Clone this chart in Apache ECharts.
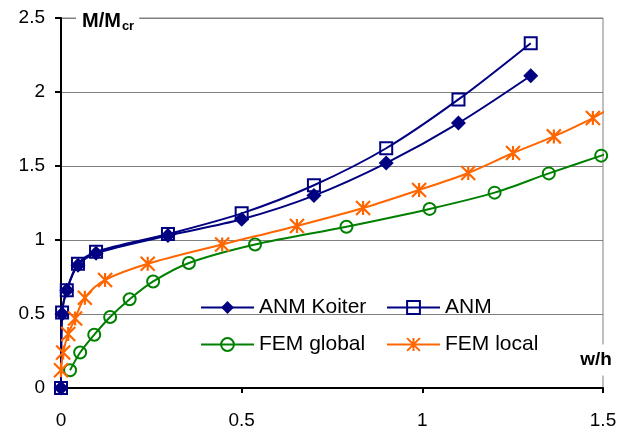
<!DOCTYPE html>
<html>
<head>
<meta charset="utf-8">
<script src="https://cdn.jsdelivr.net/npm/echarts@6/dist/echarts.min.js"></script>
<style>html,body{margin:0;padding:0;background:#fff}#c{width:631px;height:432px}</style>
</head>
<body>
<div id="c"></div>
<script>
// ---- data ----
const xTicks = [0, 0.5, 1, 1.5];
const yTicks = [0, 0.5, 1, 1.5, 2, 2.5];

const koiterX = [0, 0.003, 0.016, 0.047, 0.097, 0.296, 0.5, 0.7, 0.9, 1.1, 1.3];
const koiterY = [0, 0.50, 0.66, 0.83, 0.91, 1.03, 1.14, 1.30, 1.52, 1.79, 2.11];

const anmX = [0, 0.003, 0.016, 0.047, 0.097, 0.296, 0.5, 0.7, 0.9, 1.1, 1.3];
const anmY = [0, 0.51, 0.66, 0.84, 0.92, 1.04, 1.18, 1.37, 1.62, 1.95, 2.33];

const globalX = [0.025, 0.053, 0.092, 0.136, 0.19, 0.255, 0.354, 0.537, 0.79, 1.02, 1.2, 1.35, 1.495];
const globalY = [0.12, 0.24, 0.36, 0.48, 0.60, 0.72, 0.845, 0.97, 1.09, 1.21, 1.32, 1.45, 1.57];
const globalEnd = [1.52, 1.59];   // line continues past the last marker

const localX = [0, 0.006, 0.02, 0.039, 0.066, 0.122, 0.24, 0.446, 0.653, 0.836, 0.991, 1.127, 1.251, 1.364, 1.472];
const localY = [0.12, 0.24, 0.365, 0.47, 0.61, 0.73, 0.84, 0.97, 1.095, 1.216, 1.338, 1.453, 1.588, 1.70, 1.824];
const localEnd = [1.52, 1.89];

const seriesNames = ['ANM Koiter', 'ANM', 'FEM global', 'FEM local'];
const xName = 'w/h';

// ---- chart ----
const NAVY = '#000080', GREEN = '#008000', ORANGE = '#FF6600';
const FONT = '"Liberation Sans", Arial, sans-serif';
const zip = (xs, ys) => xs.map((x, i) => [x, ys[i]]);
const withEnd = (pts, end) => pts.concat([{ value: end, symbol: 'none' }]);
const STAR = 'path://M5,0L5,10M0,0L10,10M0,10L10,0';

const chart = echarts.init(document.getElementById('c'), null, { renderer: 'canvas' });

const legendCommon = {
  orient: 'vertical',
  top: 292,
  itemWidth: 53,
  itemHeight: 16,
  itemGap: 16,
  textStyle: { fontFamily: FONT, fontSize: 21, color: '#000', lineHeight: 21 }
};

chart.setOption({
  animation: false,
  backgroundColor: '#fff',
  grid: { left: 61, right: 28, top: 18, bottom: 44, show: true, borderColor: '#808080', borderWidth: 1 },
  legend: [
    Object.assign({}, legendCommon, { left: 195, data: [seriesNames[0], seriesNames[2]] }),
    Object.assign({}, legendCommon, { left: 381, data: [seriesNames[1], seriesNames[3]] })
  ],
  xAxis: {
    type: 'value', min: xTicks[0], max: xTicks[xTicks.length - 1], interval: 0.5,
    name: '{w|' + xName + '}', nameLocation: 'end', nameGap: -7,
    nameTextStyle: {
      align: 'center', verticalAlign: 'bottom', padding: [0, 0, 18, 0],
      rich: { w: { fontFamily: FONT, fontSize: 19, fontWeight: 'bold', color: '#000', backgroundColor: '#fff', padding: [6, 2, 6, 2], lineHeight: 20 } }
    },
    axisLine: { lineStyle: { color: '#000', width: 2 } },
    axisTick: { show: true, length: 5, lineStyle: { color: '#000', width: 2 } },
    axisLabel: { fontFamily: FONT, fontSize: 19, color: '#000', margin: 23 },
    splitLine: { show: false }
  },
  yAxis: {
    type: 'value', min: yTicks[0], max: yTicks[yTicks.length - 1], interval: 0.5,
    name: '{g|}{m|M/M}{s|cr}', nameLocation: 'end', nameGap: -2,
    nameTextStyle: {
      align: 'left', verticalAlign: 'middle',
      rich: {
        g: { width: 15, height: 28 },
        m: { fontFamily: FONT, fontSize: 20, fontWeight: 'bold', color: '#000', backgroundColor: '#fff', padding: [3, 0, 3, 6], lineHeight: 22, verticalAlign: 'bottom' },
        s: { fontFamily: FONT, fontSize: 13, fontWeight: 'bold', color: '#000', backgroundColor: '#fff', padding: [10, 5, 1, 1], lineHeight: 13, verticalAlign: 'bottom' }
      }
    },
    axisLine: { lineStyle: { color: '#000', width: 2 } },
    axisTick: { show: true, length: 6, lineStyle: { color: '#000', width: 2 } },
    axisLabel: { fontFamily: FONT, fontSize: 19, color: '#000', margin: 16 },
    splitLine: { show: true, lineStyle: { color: '#808080', width: 1 } }
  },
  series: [
    {
      name: seriesNames[0], type: 'line', smooth: 0.3, clip: false,
      data: zip(koiterX, koiterY),
      symbol: 'diamond', symbolSize: 15,
      lineStyle: { color: NAVY, width: 2 },
      itemStyle: { color: NAVY, borderColor: NAVY, borderWidth: 0 }
    },
    {
      name: seriesNames[1], type: 'line', smooth: 0.3, clip: false,
      data: zip(anmX, anmY),
      symbol: 'rect', symbolSize: 12,
      lineStyle: { color: NAVY, width: 2 },
      itemStyle: { color: 'rgba(0,0,0,0)', borderColor: NAVY, borderWidth: 2 }
    },
    {
      name: seriesNames[2], type: 'line', smooth: 0.3, clip: false,
      data: withEnd(zip(globalX, globalY), globalEnd),
      symbol: 'circle', symbolSize: 12,
      lineStyle: { color: GREEN, width: 2 },
      itemStyle: { color: 'rgba(0,0,0,0)', borderColor: GREEN, borderWidth: 2 }
    },
    {
      name: seriesNames[3], type: 'line', smooth: 0.3, clip: false,
      data: withEnd(zip(localX, localY), localEnd),
      symbol: STAR, symbolSize: 14,
      lineStyle: { color: ORANGE, width: 2 },
      itemStyle: { color: 'rgba(0,0,0,0)', borderColor: ORANGE, borderWidth: 2.2 }
    }
  ]
});
</script>
</body>
</html>
